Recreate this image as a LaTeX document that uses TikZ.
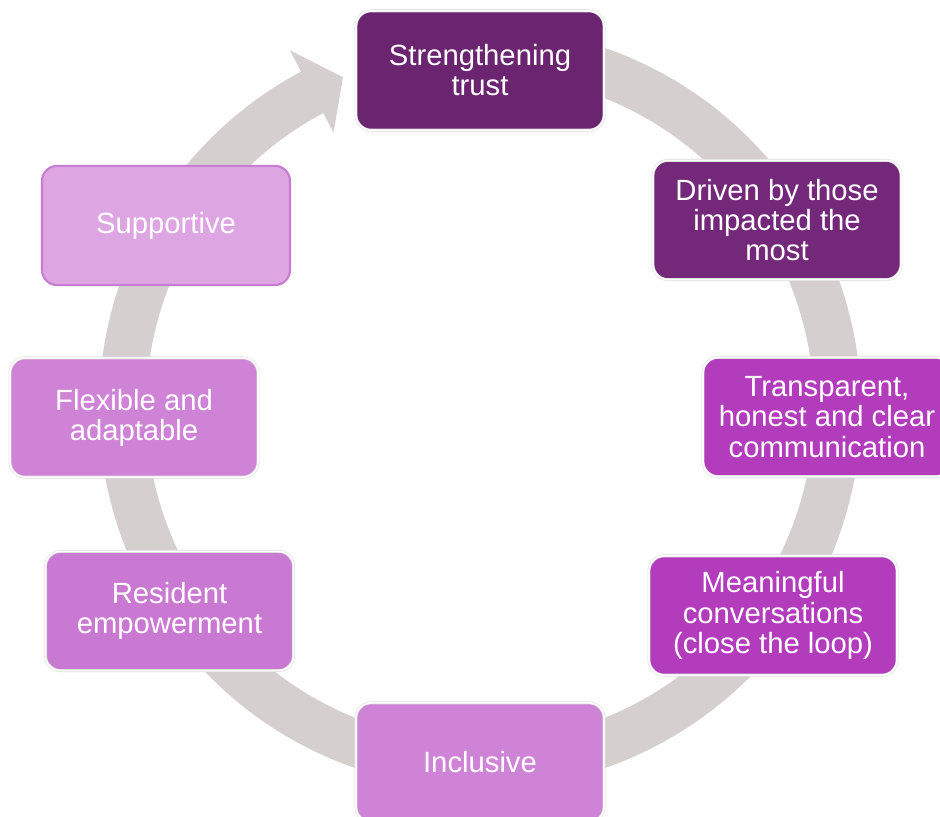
\documentclass[tikz,border=0pt]{standalone}
\usepackage{fontspec}
\setmainfont{Liberation Sans}

\definecolor{ringgray}{HTML}{D5CFCF}
\definecolor{plumdark}{HTML}{6B2470}
\definecolor{plumdeep}{HTML}{74287A}
\definecolor{orchid}{HTML}{B23CBB}
\definecolor{lilac}{HTML}{CF83D6}
\definecolor{lilacmid}{HTML}{CA79D3}
\definecolor{lilaclight}{HTML}{DDA6E3}
\definecolor{lilacrim}{HTML}{C67CD0}

\tikzset{
  stage/.style={rounded corners=0.38cm, minimum width=6.2cm, minimum height=2.98cm,
    inner sep=0pt, align=center, text=white, font=\fontsize{20.8}{21.4}\selectfont},
  rim/.style={draw=gray!28, double=white, double distance=1.2pt, line width=0.4pt},
}

\begin{document}
\begin{tikzpicture}[x=0.025cm, y=0.025cm]
    \useasboundingbox (0,0) rectangle (940,816);
    \clip (0,0) rectangle (940,816);

    \coordinate (O) at (480,408);

    \begin{scope}[shift={(O)}]
      \fill[ringgray] (85:381) arc[start angle=85, end angle=-242, radius=381]
        -- (-242:405) -- (-247.5:358) -- (-242:312) -- (-242:334)
        arc[start angle=-242, end angle=85, radius=334] -- cycle;
    \end{scope}

    \node[stage, rim, fill=plumdark] (trust) at (480,745.5) {Strengthening\\trust};
    \node[stage, rim, fill=plumdeep] (driven) at (777,596) {Driven by those\\impacted the\\most};
    \node[stage, rim, fill=orchid] (transparent) at (827,399) {Transparent,\\honest and clear\\communication};
    \node[stage, rim, fill=orchid] (meaningful) at (773,200.5) {Meaningful\\conversations\\(close the loop)};
    \node[stage, rim, fill=lilac] (inclusive) at (480,53.5) {Inclusive};
    \node[stage, rim, fill=lilacmid] (resident) at (169.5,205) {Resident\\empowerment};
    \node[stage, rim, fill=lilac] (flexible) at (134,398.5) {Flexible and\\adaptable};
    \node[stage, draw=lilacrim, line width=1.5pt, fill=lilaclight] (supportive) at (166,590.5) {Supportive};
  \end{tikzpicture}
\end{document}
